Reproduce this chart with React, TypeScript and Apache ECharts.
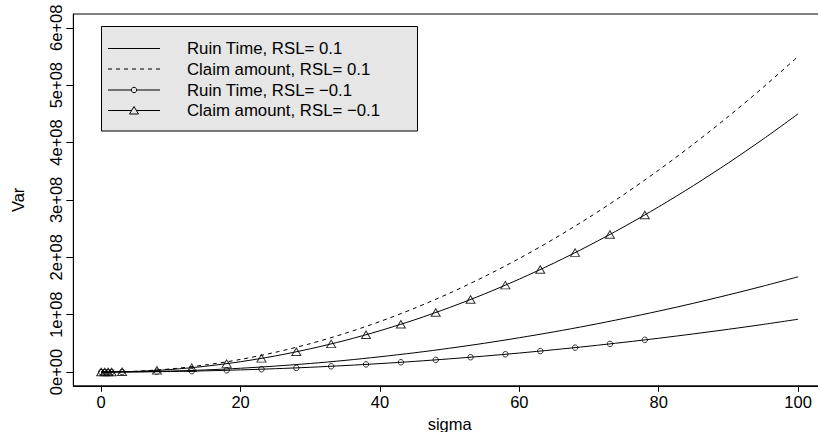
import React, { useEffect, useRef } from "react";
import * as echarts from "echarts";

// sigma grid for the smooth curves
const SIGMA = [0, 5, 10, 15, 20, 25, 30, 35, 40, 45, 50, 55, 60, 65, 70, 75, 80, 85, 90, 95, 100];
// values in units of 1e8
const RUIN_POS = [0, 0.004, 0.017, 0.037, 0.066, 0.104, 0.149, 0.203, 0.266, 0.336, 0.415, 0.502, 0.598, 0.701, 0.813, 0.934, 1.062, 1.199, 1.345, 1.498, 1.66];
const CLAIM_POS = [0, 0.014, 0.055, 0.124, 0.22, 0.344, 0.495, 0.674, 0.88, 1.114, 1.375, 1.664, 1.98, 2.324, 2.695, 3.094, 3.52, 3.974, 4.455, 4.964, 5.5];
const RUIN_NEG = [0, 0.002, 0.009, 0.021, 0.037, 0.058, 0.083, 0.113, 0.147, 0.186, 0.23, 0.278, 0.331, 0.389, 0.451, 0.518, 0.589, 0.665, 0.745, 0.83, 0.92];
const CLAIM_NEG = [0, 0.011, 0.045, 0.101, 0.18, 0.281, 0.405, 0.551, 0.72, 0.911, 1.125, 1.361, 1.62, 1.901, 2.205, 2.531, 2.88, 3.251, 3.645, 4.061, 4.5];

// marker positions
const MARK_SIGMA = [0, 0.5, 1, 1.5, 3, 8, 13, 18, 23, 28, 33, 38, 43, 48, 53, 58, 63, 68, 73, 78];
const RUIN_NEG_MARK = [0, 0, 0, 0, 0.001, 0.006, 0.016, 0.03, 0.049, 0.072, 0.1, 0.133, 0.17, 0.212, 0.258, 0.31, 0.365, 0.425, 0.49, 0.56];
const CLAIM_NEG_MARK = [0, 0, 0, 0, 0.004, 0.029, 0.076, 0.146, 0.238, 0.353, 0.49, 0.65, 0.832, 1.037, 1.264, 1.514, 1.786, 2.081, 2.398, 2.738];

const X_TICKS = [0, 20, 40, 60, 80, 100];
const Y_TICKS = [0, 1, 2, 3, 4, 5, 6];
const Y_TICK_LABELS = ["0e+00", "1e+08", "2e+08", "3e+08", "4e+08", "5e+08", "6e+08"];

const LEGEND_LABELS = [
  "Ruin Time, RSL= 0.1",
  "Claim amount, RSL= 0.1",
  "Ruin Time, RSL= \u22120.1",
  "Claim amount, RSL= \u22120.1",
];

const FONT = "'Liberation Sans', Arial, Helvetica, sans-serif";
const SCALE = 1e8;

function pairs(xs: number[], ys: number[]) {
  return xs.map((x, i) => [x, ys[i] * SCALE]);
}

export default function App() {
  const ref = useRef<HTMLDivElement>(null);
  useEffect(() => {
    if (!ref.current) return;
    const chart = echarts.init(ref.current, undefined, { renderer: "svg" });
    const lineBase = {
      type: "line" as const,
      smooth: 0.3,
      showSymbol: false,
      symbol: "none",
      silent: true,
      z: 2,
    };
    const rowY = [48.5, 69, 90, 110.5];
    const sx0 = 108, sx1 = 160, tx = 187;
    const legendChildren: any[] = [
      {
        type: "rect",
        shape: { x: 101.5, y: 26.5, width: 316, height: 104.5 },
        style: { fill: "#e6e6e6", stroke: "#000", lineWidth: 1 },
      },
    ];
    rowY.forEach((y, i) => {
      legendChildren.push({
        type: "line",
        shape: { x1: sx0, y1: y, x2: sx1, y2: y },
        style: { stroke: "#000", lineWidth: 1, lineDash: i === 1 ? [4, 4] : null },
      });
      legendChildren.push({
        type: "text",
        style: {
          x: tx,
          y: y,
          text: LEGEND_LABELS[i],
          font: `16.8px ${FONT}`,
          fill: "#000",
          verticalAlign: "middle",
          align: "left",
        },
      });
    });
    legendChildren.push({
      type: "circle",
      shape: { cx: 134, cy: rowY[2], r: 2.7 },
      style: { fill: "#e6e6e6", stroke: "#000", lineWidth: 1 },
    });
    legendChildren.push({
      type: "polygon",
      shape: { points: [[134, rowY[3] - 4], [138.5, rowY[3] + 3.5], [129.5, rowY[3] + 3.5]] },
      style: { fill: "#e6e6e6", stroke: "#000", lineWidth: 1 },
    });

    chart.setOption({
      animation: false,
      backgroundColor: "#fff",
      textStyle: { fontFamily: FONT },
      grid: {
        left: 73.3,
        top: 14,
        right: -8,
        bottom: 46.2,
        outerBoundsMode: "none",
        containLabel: false,
        show: true,
        borderColor: "#000",
        borderWidth: 1,
        backgroundColor: "transparent",
      },
      xAxis: {
        type: "value",
        min: -4,
        max: 104,
        name: "sigma",
        nameLocation: "middle",
        nameGap: 24,
        nameTextStyle: { fontSize: 16.5, color: "#000", fontFamily: FONT },
        axisLine: { show: true, onZero: false, lineStyle: { color: "#000", width: 1 } },
        axisTick: { show: true, length: 6, customValues: X_TICKS, lineStyle: { color: "#000" } },
        axisLabel: {
          customValues: X_TICKS,
          fontSize: 16.5,
          color: "#000",
          margin: 8,
          fontFamily: FONT,
        },
        splitLine: { show: false },
      },
      yAxis: {
        type: "value",
        min: -0.24 * SCALE,
        max: 6.24 * SCALE,
        name: "Var",
        nameLocation: "middle",
        nameGap: 47,
        nameRotate: 90,
        nameTextStyle: { fontSize: 16.5, color: "#000", fontFamily: FONT },
        axisLine: { show: true, onZero: false, lineStyle: { color: "#000", width: 1 } },
        axisTick: { show: true, length: 7, customValues: Y_TICKS.map((v) => v * SCALE), lineStyle: { color: "#000" } },
        axisLabel: {
          customValues: Y_TICKS.map((v) => v * SCALE),
          rotate: 90,
          fontSize: 16.5,
          color: "#000",
          margin: 9,
          fontFamily: FONT,
          formatter: (v: number) => Y_TICK_LABELS[Math.round(v / SCALE)] ?? "",
        },
        splitLine: { show: false },
      },
      series: [
        { ...lineBase, name: LEGEND_LABELS[0], data: pairs(SIGMA, RUIN_POS), lineStyle: { color: "#000", width: 1 } },
        { ...lineBase, name: LEGEND_LABELS[1], data: pairs(SIGMA, CLAIM_POS), lineStyle: { color: "#000", width: 1, type: [4, 4] } },
        { ...lineBase, name: LEGEND_LABELS[2], data: pairs(SIGMA, RUIN_NEG), lineStyle: { color: "#000", width: 1 } },
        { ...lineBase, name: LEGEND_LABELS[3], data: pairs(SIGMA, CLAIM_NEG), lineStyle: { color: "#000", width: 1 } },
        {
          type: "scatter",
          name: LEGEND_LABELS[2] + " pts",
          data: pairs(MARK_SIGMA, RUIN_NEG_MARK),
          symbol: "circle",
          symbolSize: 5.5,
          itemStyle: { color: "rgba(0,0,0,0)", borderColor: "#000", borderWidth: 1 },
          silent: true,
          z: 3,
        },
        {
          type: "scatter",
          name: LEGEND_LABELS[3] + " pts",
          data: pairs(MARK_SIGMA, CLAIM_NEG_MARK),
          symbol: "triangle",
          symbolSize: [9, 7.5],
          itemStyle: { color: "rgba(0,0,0,0)", borderColor: "#000", borderWidth: 1 },
          silent: true,
          z: 3,
        },
      ],
      graphic: [{ type: "group", children: legendChildren, z: 10 }],
    });
    return () => chart.dispose();
  }, []);
  return (
    <div
      ref={ref}
      style={{ position: "fixed", left: 0, top: 0, width: 818, height: 432, background: "#fff" }}
    />
  );
}
